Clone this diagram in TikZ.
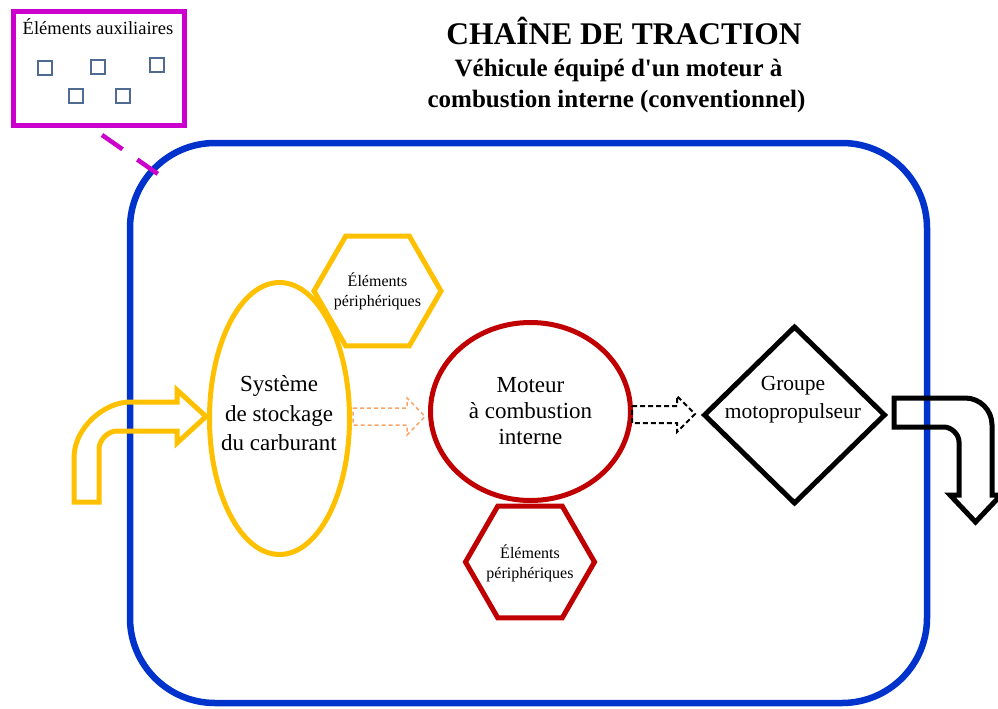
\documentclass[tikz,border=0pt]{standalone}
\usepackage{fontspec}
\setmainfont{Liberation Serif}
\usetikzlibrary{shapes.geometric,calc}
\definecolor{cblue}{RGB}{0,51,204}
\definecolor{cmag}{RGB}{204,0,204}
\definecolor{cyel}{RGB}{255,192,0}
\definecolor{cred}{RGB}{192,0,0}
\definecolor{corange}{RGB}{247,165,105}
\definecolor{sqblue}{RGB}{79,107,145}
\tikzset{
  fnt/.style 2 args={font=\fontsize{#1}{#2}\selectfont},
  sq/.style={draw=sqblue, line width=2, minimum size=14, inner sep=0},
  blob/.style={line width=5, fill=white, inner sep=0, align=center},
  hexa/.style={regular polygon, regular polygon sides=6, line width=5, fill=white, inner sep=0},
  hext/.style={align=center, inner sep=0, fnt={16}{20}},
  hollow/.style={line width=5, line join=miter, miter limit=10},
  sub/.style={font=\fontsize{25}{30}\selectfont\bfseries, anchor=base, inner sep=0}
}
\begin{document}
\begin{tikzpicture}[x=1pt,y=-1pt]
\useasboundingbox (0,0) rectangle (998,709);
% outer frame
\draw[cblue, line width=6.5, rounded corners=85] (130,143) rectangle (927,703);
% title
\node[font=\fontsize{31.5}{36}\selectfont\bfseries, anchor=base, inner sep=0] (title) at (624,45) {CHAÎNE DE TRACTION};
\node[sub] (sub1) at (618.5,77) {Véhicule équipé d\textquotesingle un moteur à};
\node[sub] (sub2) at (616.5,107) {combustion interne (conventionnel)};
% auxiliary box
\node[draw=cmag, line width=5, minimum width=171, minimum height=114, inner sep=0] (aux) at (99,68.5) {};
\node[fnt={18.5}{20}, anchor=base, inner sep=0] (auxt) at (98,35) {Éléments auxiliaires};
\node[sq] (s1) at (45,68) {};
\node[sq] (s2) at (98,67) {};
\node[sq] (s3) at (157,65) {};
\node[sq] (s4) at (76,96) {};
\node[sq] (s5) at (123,96) {};
\coordinate (dashA) at (102,135);
\coordinate (dashB) at (158,174);
\draw[cmag, line width=4.5, dash pattern=on 25 off 18] (dashA) -- (dashB);
% main nodes
\node[ellipse, blob, draw=cyel, minimum width=140, minimum height=272] (tank) at (279.5,418.5) {};
\node[fnt={23}{29.5}, align=center, inner sep=0] (tankt) at (279,413.5) {Système\\de stockage\\du carburant};
\node[hexa, draw=cyel, minimum size=127] (hexY) at (377.5,291) {};
\node[hext] (hexYt) at (hexY.center) {Éléments\\périphériques};
\node[ellipse, blob, draw=cred, minimum width=200, minimum height=178, fnt={23}{26}] (ice) at (530.5,411.5) {Moteur\\à combustion\\interne};
\node[hexa, draw=cred, minimum size=129] (hexR) at (530,562) {};
\node[hext] (hexRt) at (530,563) {Éléments\\périphériques};
\node[diamond, blob, draw=black, minimum width=182, minimum height=178] (gmp) at (794.5,415) {};
\node[fnt={21.5}{28}, align=center, inner sep=0] (gmpt) at (793,400) {Groupe\\motopropulseur};
% input arrow (yellow)
\draw[hollow, cyel] (74,502) -- (74,458) .. controls (74,427) and (105,402) .. (130,402) -- (177,402) -- (177,390) -- (206,416.5) -- (177,443) -- (177,431) -- (117,431) .. controls (107,431) and (99,441) .. (99,449) -- (99,502) -- cycle;
% dashed arrows
\draw[corange, line width=1.5, line join=miter, dash pattern=on 4 off 3] (353,408) -- (407,408) -- (407,398) -- (425,416.5) -- (407,435) -- (407,425) -- (353,425) -- cycle;
\draw[black, line width=2, line join=miter, dash pattern=on 5 off 3] (632,406) -- (677,406) -- (677,396) -- (695,414) -- (677,432) -- (677,423) -- (632,423) -- cycle;
% output arrow (black)
\draw[hollow, black] (894,398) -- (965,398) .. controls (980,398) and (992,410) .. (992,425) -- (992,495) -- (1001,495) -- (975.5,522) -- (950,495) -- (959,495) -- (959,442) .. controls (959,433.7) and (950.7,427) .. (944,427) -- (894,427) -- cycle;
\end{tikzpicture}
\end{document}
